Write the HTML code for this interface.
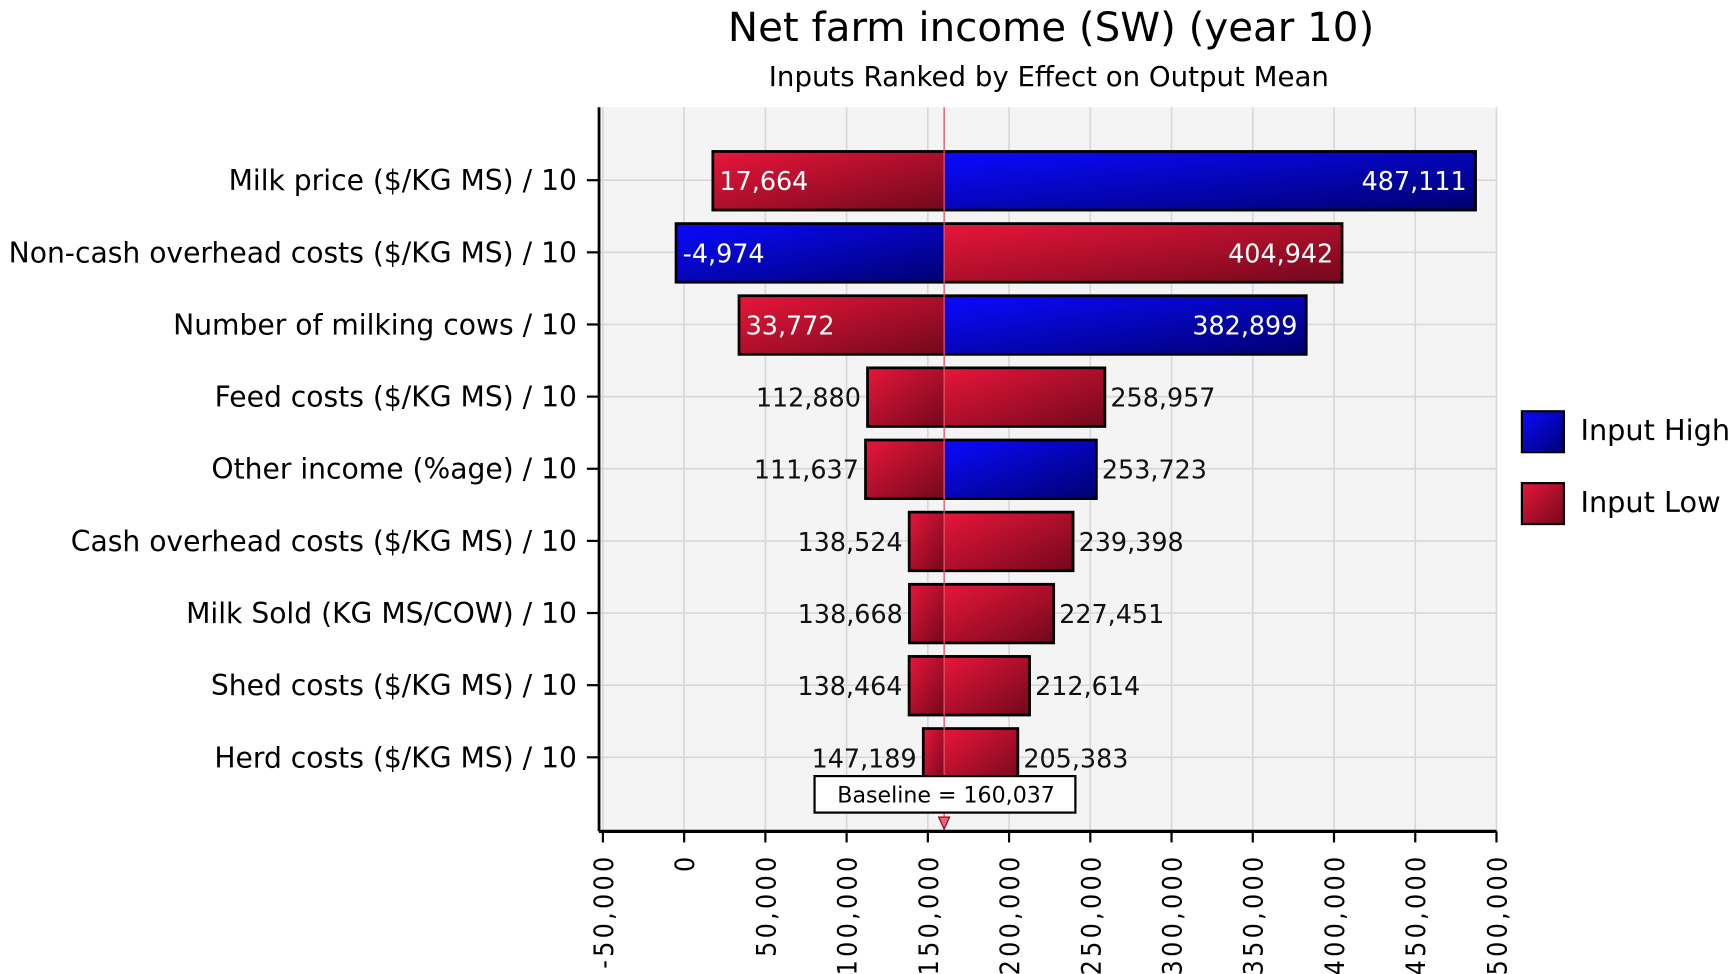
<!DOCTYPE html>
<html><head><meta charset="utf-8">
<style>
html,body{margin:0;padding:0;background:#fff;}
svg{display:block;font-family:"DejaVu Sans","Liberation Sans",sans-serif;}
</style></head>
<body>
<svg id="chart" width="1733" height="974" viewBox="0 0 1568 881" preserveAspectRatio="none" xmlns="http://www.w3.org/2000/svg">
<defs>
<linearGradient id="gRed" x1="0" y1="0" x2="1" y2="1"><stop offset="0" stop-color="#e8163a"/><stop offset="1" stop-color="#72081c"/></linearGradient>
<linearGradient id="gBlue" x1="0" y1="0" x2="1" y2="1"><stop offset="0" stop-color="#0a0aff"/><stop offset="1" stop-color="#000070"/></linearGradient>
</defs>
<text x="951" y="37" font-size="36.5" text-anchor="middle" fill="#000">Net farm income (SW) (year 10)</text>
<text x="949" y="78" font-size="25" text-anchor="middle" fill="#000">Inputs Ranked by Effect on Output Mean</text>
<rect x="542" y="97" width="812" height="655" fill="#f4f4f4"/>
<g id="grid"></g>
<g id="bars"></g>
<g id="axes"></g>
<g>
<rect x="1377" y="372" width="38" height="37" fill="url(#gBlue)" stroke="#000" stroke-width="2"/>
<text x="1430" y="398" font-size="26">Input High</text>
<rect x="1377" y="437" width="38" height="37" fill="url(#gRed)" stroke="#000" stroke-width="2"/>
<text x="1430" y="463" font-size="26">Input Low</text>
</g>
</svg>
<script>
const categories=["Milk price ($/KG MS) / 10","Non-cash overhead costs ($/KG MS) / 10","Number of milking cows / 10","Feed costs ($/KG MS) / 10","Other income (%age) / 10","Cash overhead costs ($/KG MS) / 10","Milk Sold (KG MS/COW) / 10","Shed costs ($/KG MS) / 10","Herd costs ($/KG MS) / 10"];
const lowValues=[17664,-4974,33772,112880,111637,138524,138668,138464,147189];
const highValues=[487111,404942,382899,258957,253723,239398,227451,212614,205383];
const leftColors=["red","blue","red","red","red","red","red","red","red"];
const rightColors=["blue","red","blue","red","blue","red","red","red","red"];
const baseline=160037;
const ticks=[-50000,0,50000,100000,150000,200000,250000,300000,350000,400000,450000,500000];
const ns="http://www.w3.org/2000/svg";
const X0=542,X1=1354,Y0=97,Y1=752,PZ=619,DMAX=500000;
function xs(v){return Math.max(X0,PZ+v/DMAX*(X1-PZ));}
function ys(i){return 163+i*65.25;}
function mk(t,a,p){const e=document.createElementNS(ns,t);for(const k in a)e.setAttribute(k,a[k]);(p||document.getElementById('chart')).appendChild(e);return e;}
function fmt(v){return (v<0?"-":"")+Math.abs(v).toLocaleString('en-US');}
const grid=document.getElementById('grid'),bars=document.getElementById('bars'),axes=document.getElementById('axes');
ticks.forEach(t=>{const l=mk('line',{x1:xs(t),x2:xs(t),y1:Y0,y2:Y1,stroke:'#d8d8d8','stroke-width':1.5},grid);

});
categories.forEach((c,i)=>{const l=mk('line',{x1:X0,x2:X1,y1:ys(i),y2:ys(i),stroke:'#d8d8d8','stroke-width':1.5},grid);

});
const bx=xs(baseline);
categories.forEach((c,i)=>{
 const y=ys(i)-26,h=53,lo=Math.min(lowValues[i],highValues[i]),hi=Math.max(lowValues[i],highValues[i]);
 const a=mk('rect',{x:xs(lo),y:y,width:bx-xs(lo),height:h,fill:leftColors[i]=='red'?'url(#gRed)':'url(#gBlue)'},bars);
 
 
 const b=mk('rect',{x:bx,y:y,width:xs(hi)-bx,height:h,fill:rightColors[i]=='red'?'url(#gRed)':'url(#gBlue)'},bars);
 
 
 const o=mk('rect',{x:xs(lo),y:y,width:xs(hi)-xs(lo),height:h,fill:'none',stroke:'#000','stroke-width':2.5},bars);
 
 
 const inside=(xs(hi)-xs(lo))>400;
 const t1=mk('text',{x:inside?xs(lo)+6:xs(lo)-6,y:ys(i)+9,'font-size':23,'text-anchor':inside?'start':'end',fill:inside?'#fff':'#111'},bars);t1.textContent=fmt(lo);
 
 
 const t2=mk('text',{x:inside?xs(hi)-8:xs(hi)+5,y:ys(i)+9,'font-size':23,'text-anchor':inside?'end':'start',fill:inside?'#fff':'#111'},bars);t2.textContent=fmt(hi);
 
 
 const lb=mk('text',{x:522,y:ys(i)+9,'font-size':25.5,'text-anchor':'end',fill:'#000'},axes);lb.textContent=c;
 
 
 const tk=mk('line',{x1:531,x2:542,y1:ys(i),y2:ys(i),stroke:'#000','stroke-width':2},axes);
 
 
});
const bl=mk('line',{x1:bx,x2:bx,y1:Y0,y2:Y1,stroke:'#e0506a','stroke-width':1.2},bars);


const bb=mk('rect',{x:737,y:702,width:236,height:33,fill:'#fff',stroke:'#000','stroke-width':2},bars);


const bt=mk('text',{x:856,y:726,'font-size':20,'text-anchor':'middle',fill:'#000'},bars);bt.textContent="Baseline = "+fmt(baseline);


const ar=mk('path',{d:`M${bx-5},739 L${bx+5},739 L${bx},750 Z`,fill:'#f06080',stroke:'#800','stroke-width':1},bars);


const ya=mk('line',{x1:X0,x2:X0,y1:Y0,y2:Y1,stroke:'#000','stroke-width':2.5},axes);


const xa=mk('line',{x1:X0,x2:X1,y1:Y1,y2:Y1,stroke:'#000','stroke-width':3},axes);


ticks.forEach(t=>{
 const l=mk('line',{x1:xs(t),x2:xs(t),y1:Y1,y2:Y1+10,stroke:'#000','stroke-width':2},axes);
 
 
 const tx=mk('text',{x:0,y:0,'font-size':24,'text-anchor':'end','letter-spacing':'3','font-family':'DejaVu Sans Condensed, sans-serif',transform:`translate(${xs(t)+9},772) rotate(-90)`},axes);
 tx.textContent=t.toLocaleString('en-US');
 
 
});
</script>
</body></html>
